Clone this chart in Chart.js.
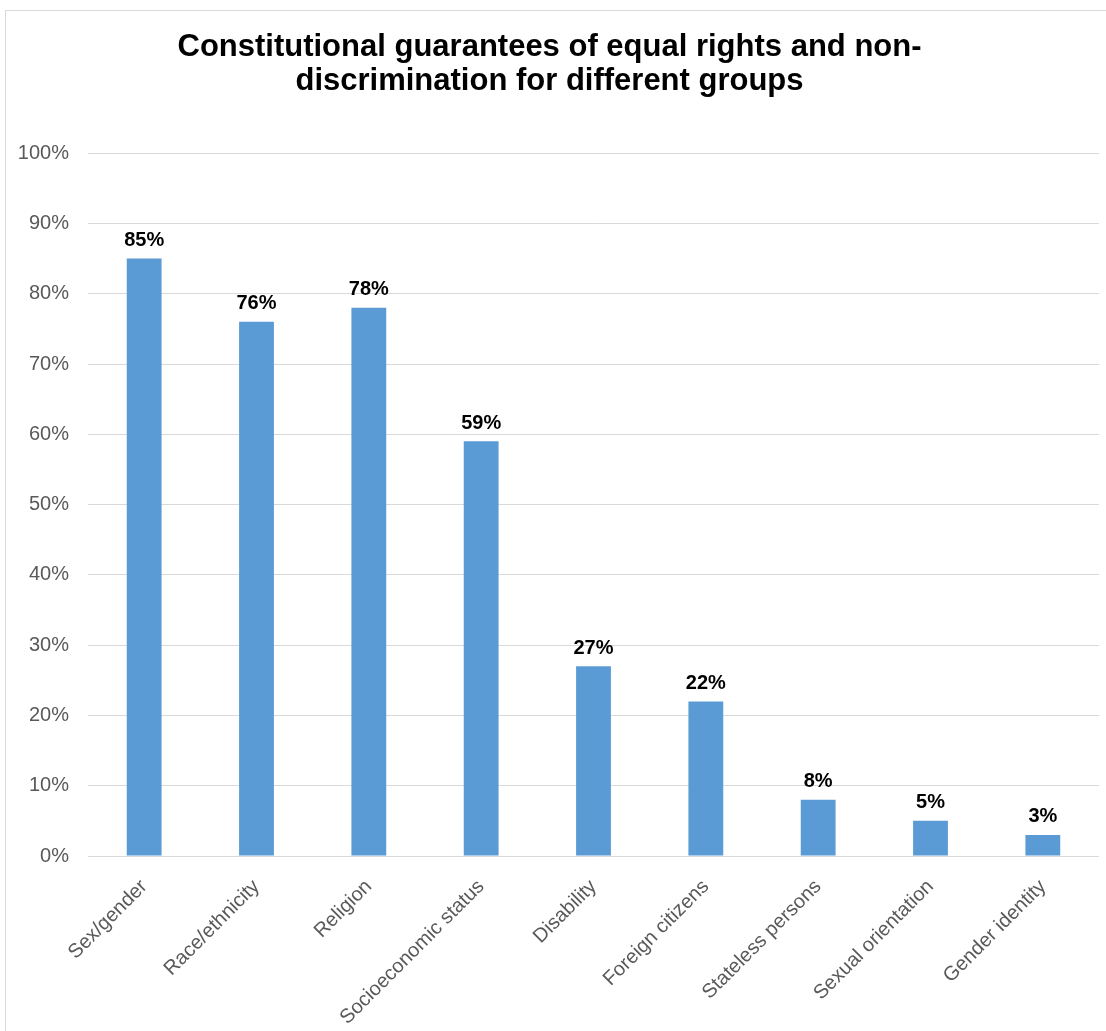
<!DOCTYPE html>
<html>
<head>
<meta charset="utf-8">
<script src="https://cdn.jsdelivr.net/npm/chart.js@4.4.1/dist/chart.umd.min.js"></script>
<style>
  html, body { margin: 0; padding: 0; background: #fff; overflow: hidden; }
  #frame { position: absolute; left: 5px; top: 10px; width: 1200px; height: 1100px; border: 1px solid #d9d9d9; }
  #wrap { position: absolute; left: 0; top: 0; width: 1106px; height: 1031px; }
</style>
</head>
<body>
<div id="frame"></div>
<div id="wrap"><canvas id="chart" width="1106" height="1031"></canvas></div>
<script>
// categories and values (percent)
const groups = ["Sex/gender", "Race/ethnicity", "Religion", "Socioeconomic status", "Disability",
  "Foreign citizens", "Stateless persons", "Sexual orientation", "Gender identity"];
const shares = [85, 76, 78, 59, 27, 22, 8, 5, 3];
const yTicks = [0, 10, 20, 30, 40, 50, 60, 70, 80, 90, 100];

// draws the bold value above each bar
const valueLabels = {
  id: "valueLabels",
  afterDatasetsDraw(chart) {
    const ctx = chart.ctx;
    const meta = chart.getDatasetMeta(0);
    ctx.save();
    ctx.font = "bold 20px 'Liberation Sans', Arial, sans-serif";
    ctx.fillStyle = "#000";
    ctx.textAlign = "center";
    ctx.textBaseline = "bottom";
    meta.data.forEach(function(bar, i) {
      ctx.fillText(shares[i] + "%", bar.x, bar.y - 8);
    });
    ctx.restore();
  }
};

const ctx = document.getElementById("chart");
new Chart(ctx, {
  type: "bar",
  data: {
    labels: groups,
    datasets: [{
      data: shares,
      backgroundColor: "#5B9BD5",
      barPercentage: 0.31,
      categoryPercentage: 1
    }]
  },
  options: {
    responsive: false,
    animation: false,
    layout: { padding: { left: 0, right: 7, top: 30, bottom: 0 } },
    plugins: {
      legend: { display: false },
      tooltip: { enabled: false },
      title: {
        display: true,
        text: ["Constitutional guarantees of equal rights and non-", "discrimination for different groups"],
        color: "#000",
        font: { family: "'Liberation Sans', Arial, sans-serif", size: 31, weight: "bold", lineHeight: 1.1 },
        padding: { top: 0, bottom: 55 }
      }
    },
    scales: {
      x: {
        grid: { display: false },
        border: { display: false },
        ticks: {
          color: "#595959",
          font: { family: "'Liberation Sans', Arial, sans-serif", size: 20 },
          minRotation: 45,
          maxRotation: 45,
          padding: 11
        },
        afterFit: function(scale) { scale.height = 175; }
      },
      y: {
        min: 0,
        max: 100,
        afterBuildTicks: function(scale) { scale.ticks = yTicks.map(v => ({ value: v })); },
        grid: { color: "#d9d9d9", lineWidth: 1, drawTicks: false },
        border: { display: false },
        ticks: {
          color: "#595959",
          font: { family: "'Liberation Sans', Arial, sans-serif", size: 20 },
          padding: 19,
          callback: function(value) { return value + "%"; }
        },
        afterFit: function(scale) { scale.width = 88; }
      }
    }
  },
  plugins: [valueLabels]
});
</script>
</body>
</html>
